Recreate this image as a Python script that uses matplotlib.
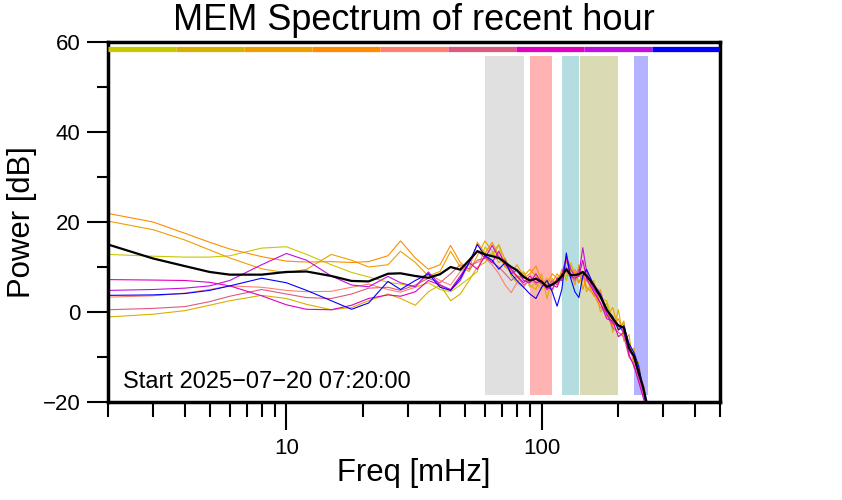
import numpy as np
import matplotlib
matplotlib.use("Agg")
import matplotlib.pyplot as plt
from matplotlib.ticker import FixedLocator, NullFormatter

plt.rcParams['font.family'] = ['Liberation Sans', 'DejaVu Sans']

# frequency grid [mHz]
freq = [2, 3, 4, 5, 6, 8, 10, 12, 15, 18, 21, 25, 28, 32, 36, 40, 44, 48, 52, 56,
        60, 64, 68, 72, 76, 80, 85, 90, 95, 100, 105, 110, 115, 120, 125, 130, 135,
        140, 145, 150, 160, 170, 180, 190, 200, 210, 220, 230, 240, 250, 260]

# spectra of the sub-intervals [dB]
s_yellowgreen = [12.8, 12.4, 12.2, 12.2, 12.5, 14.2, 14.5, 12.8, 10.5, 8.8, 7.8, 6.6, 6.2, 5.5, 6.5, 5.0, 4.5, 6.0, 7.5, 9.0,
                 14.5, 12.5, 14.8, 10.0, 9.5, 7.5, 8.5, 5.5, 6.5, 5.0, 7.0, 4.5, 7.5, 8.5, 8.0, 11.0, 8.5,
                 9.5, 7.5, 9.0, 5.0, 3.0, 2.5, -2.0, -3.5, -2.5, -9.0, -9.0, -14.5, -16.0, -22]
s_gold = [-1.1, -0.5, 0.3, 1.5, 2.5, 3.7, 3.0, 1.7, 0.5, 1.0, 2.5, 4.0, 3.0, 1.5, 4.5, 6.0, 2.5, 4.0, 7.0, 10.0,
          11.0, 13.0, 15.0, 11.5, 8.0, 6.5, 9.0, 6.0, 5.0, 8.5, 3.0, 7.5, 6.0, 9.5, 7.0, 10.5, 8.0,
          6.5, 9.0, 4.5, 7.0, 0.0, 2.0, -4.5, 0.5, -6.5, -5.0, -12.5, -11.0, -18.5, -22]
s_orangeyellow = [20.2, 18.3, 16.0, 13.8, 12.0, 9.6, 8.7, 9.5, 12.8, 11.5, 10.0, 10.5, 13.5, 11.0, 8.0, 9.0, 13.5, 10.0, 9.0, 12.5,
                  15.8, 13.5, 11.0, 12.0, 8.5, 10.5, 8.0, 9.5, 8.0, 6.0, 7.5, 6.5, 8.5, 7.0, 11.5, 9.0, 6.0,
                  10.5, 5.0, 7.5, 3.5, 5.0, -1.0, 1.0, -4.0, -2.0, -9.5, -8.0, -14.0, -16.0, -22]
s_darkorange = [21.9, 20.0, 17.5, 15.5, 14.0, 12.3, 11.3, 11.1, 11.2, 11.0, 11.2, 12.5, 15.8, 12.0, 9.5, 10.5, 14.8, 11.0, 9.5, 15.5,
                13.0, 15.5, 12.5, 10.0, 9.0, 8.0, 7.5, 8.5, 10.2, 7.0, 6.0, 8.5, 7.5, 8.5, 10.0, 7.5, 9.0,
                6.5, 8.0, 5.5, 4.0, 1.0, 0.0, -3.0, -1.5, -5.0, -7.0, -11.0, -12.5, -17.5, -22]
s_salmon = [3.3, 3.6, 4.2, 5.0, 5.8, 5.5, 4.8, 4.5, 4.6, 5.5, 6.2, 5.0, 4.4, 5.5, 8.5, 7.0, 6.0, 9.0, 10.5, 11.0,
            12.0, 10.5, 8.5, 6.0, 4.3, 6.5, 5.5, 7.5, 6.0, 7.5, 5.0, 6.5, 7.0, 8.0, 9.0, 7.5, 9.5,
            8.0, 7.5, 8.5, 6.0, 4.5, 0.5, -1.0, -3.5, -4.0, -7.5, -10.5, -13.0, -17.0, -22]
s_pink = [0.5, 0.8, 1.2, 2.3, 3.5, 5.0, 4.0, 3.2, 3.0, 4.0, 5.3, 5.5, 4.8, 6.0, 7.5, 6.5, 8.5, 10.5, 9.5, 11.5,
          12.0, 11.0, 10.0, 8.5, 7.0, 8.0, 6.0, 7.0, 7.5, 6.0, 5.5, 7.0, 6.0, 7.5, 10.0, 8.0, 7.0,
          9.5, 8.0, 7.0, 5.5, 2.0, -0.5, -3.5, -4.5, -5.5, -10.0, -11.5, -15.0, -18.0, -22]
s_magenta = [7.2, 7.1, 7.0, 6.6, 5.8, 3.6, 1.6, 0.6, 0.5, 1.5, 3.0, 3.8, 3.5, 4.5, 7.0, 6.0, 5.0, 8.0, 11.0, 9.5,
             12.5, 11.0, 13.5, 10.5, 9.5, 8.0, 6.5, 8.0, 6.5, 7.0, 5.0, 6.0, 5.5, 8.5, 12.0, 8.0, 7.5,
             8.0, 11.5, 7.5, 4.5, 2.0, -1.5, -2.0, -5.5, -4.5, -9.5, -12.0, -15.5, -19.0, -22]
s_purple = [4.8, 5.0, 5.3, 5.8, 7.0, 10.5, 13.0, 11.5, 8.0, 6.0, 5.6, 7.9, 6.5, 5.6, 8.9, 6.0, 4.8, 7.0, 11.0, 13.7,
            12.0, 14.8, 12.0, 11.5, 8.5, 9.3, 7.0, 6.5, 8.5, 6.5, 5.5, 5.0, 7.5, 7.0, 12.5, 9.5, 8.0,
            8.5, 14.3, 9.0, 5.0, 3.5, -0.5, -2.5, -3.0, -4.5, -8.5, -10.0, -14.0, -17.5, -22]
s_blue = [3.7, 3.8, 4.1, 4.8, 5.8, 7.5, 6.5, 4.8, 2.5, 0.6, 2.0, 6.8, 5.0, 7.0, 8.5, 5.5, 4.8, 7.5, 11.0, 15.0,
          12.5, 11.5, 9.5, 11.0, 8.5, 7.0, 5.5, 4.0, 3.0, 5.5, 7.0, 4.5, 1.3, 5.0, 13.1, 7.5, 4.5,
          3.2, 8.0, 9.5, 6.0, 4.0, 0.5, -1.0, -4.0, -3.0, -7.0, -9.0, -12.0, -17.0, -22]
s_mean = [15.0, 11.9, 10.2, 8.9, 8.3, 8.3, 8.9, 9.0, 8.0, 6.9, 6.8, 8.5, 8.6, 8.0, 7.6, 8.4, 10.0, 9.4, 11.5, 13.5,
          12.8, 12.4, 12.0, 11.0, 10.0, 9.3, 7.8, 7.0, 7.4, 6.7, 5.6, 6.1, 6.8, 8.0, 9.5, 8.2, 8.2,
          8.4, 8.9, 8.0, 6.0, 3.4, 0.5, -1.5, -3.0, -3.5, -8.0, -9.8, -13.5, -16.7, -21]

series = [s_yellowgreen, s_gold, s_orangeyellow, s_darkorange, s_salmon,
          s_pink, s_magenta, s_purple, s_blue]
colors = ['#c8c800', '#d8b000', '#eba000', '#ff8c00', '#ff8070',
          '#dc5a80', '#e000c0', '#c010e0', '#0000ff']

# highlighted frequency bands [mHz]
band_lo = [60, 90, 120, 142, 230]
band_hi = [85, 110, 140, 200, 262]
band_colors = ['#e0e0e0', '#ffb3b3', '#b3dde0', '#dadab4', '#b3b3ff']

fig = plt.figure(figsize=(8.42, 5.0), dpi=100)
ax = fig.add_axes([108/842, 98/500, 612/842, 360/500])

xmin, xmax = 2, 500
for lo, hi, c in zip(band_lo, band_hi, band_colors):
    ax.fill_between([lo, hi], -18.4, 57.0, color=c, lw=0, zorder=1)

for s, c in zip(series, colors):
    ax.plot(freq, s, color=c, lw=0.8, zorder=2)
ax.plot(freq, s_mean, color='black', lw=1.6, zorder=3)

# colour key along the top
edges = np.geomspace(xmin, xmax, len(colors) + 1)
for i, c in enumerate(colors):
    ax.plot([edges[i], edges[i + 1]], [58.4, 58.4], color=c, lw=3.8,
            solid_capstyle='butt', zorder=4)

ax.set_xscale('log')
ax.set_xlim(xmin, xmax)
ax.set_ylim(-20, 60)

ax.xaxis.set_major_locator(FixedLocator([10, 100]))
ax.xaxis.set_minor_locator(FixedLocator([2, 3, 4, 5, 6, 7, 8, 9, 20, 30, 40, 50, 60, 70, 80, 90,
                                         200, 300, 400, 500]))
ax.xaxis.set_minor_formatter(NullFormatter())
ax.set_xticklabels(['10', '100'])
ax.yaxis.set_major_locator(FixedLocator([-20, 0, 20, 40, 60]))
ax.yaxis.set_minor_locator(FixedLocator([-10, 10, 30, 50]))

ax.tick_params(axis='x', which='major', length=20, width=1.5, labelsize=16, pad=6)
ax.tick_params(axis='x', which='minor', length=11, width=1.5)
ax.tick_params(axis='y', which='major', length=15, width=1.5, labelsize=16, pad=5)
ax.tick_params(axis='y', which='minor', length=8, width=1.5)
for sp in ax.spines.values():
    sp.set_linewidth(2.5)

fig.text(414/842, 1 - 30/500, 'MEM Spectrum of recent hour', ha='center', va='baseline', fontsize=26)
fig.text(414/842, 1 - 473/500, 'Freq [mHz]', ha='center', va='center', fontsize=22.4)
fig.text(22/842, 1 - 222/500, 'Power [dB]', ha='center', va='center', rotation=90, fontsize=22.4)
ax.text(0.024, 0.039, 'Start 2025\u221207\u221220 07:20:00', transform=ax.transAxes,
        ha='left', va='baseline', fontsize=17)

fig.savefig('out.png', dpi=100)
